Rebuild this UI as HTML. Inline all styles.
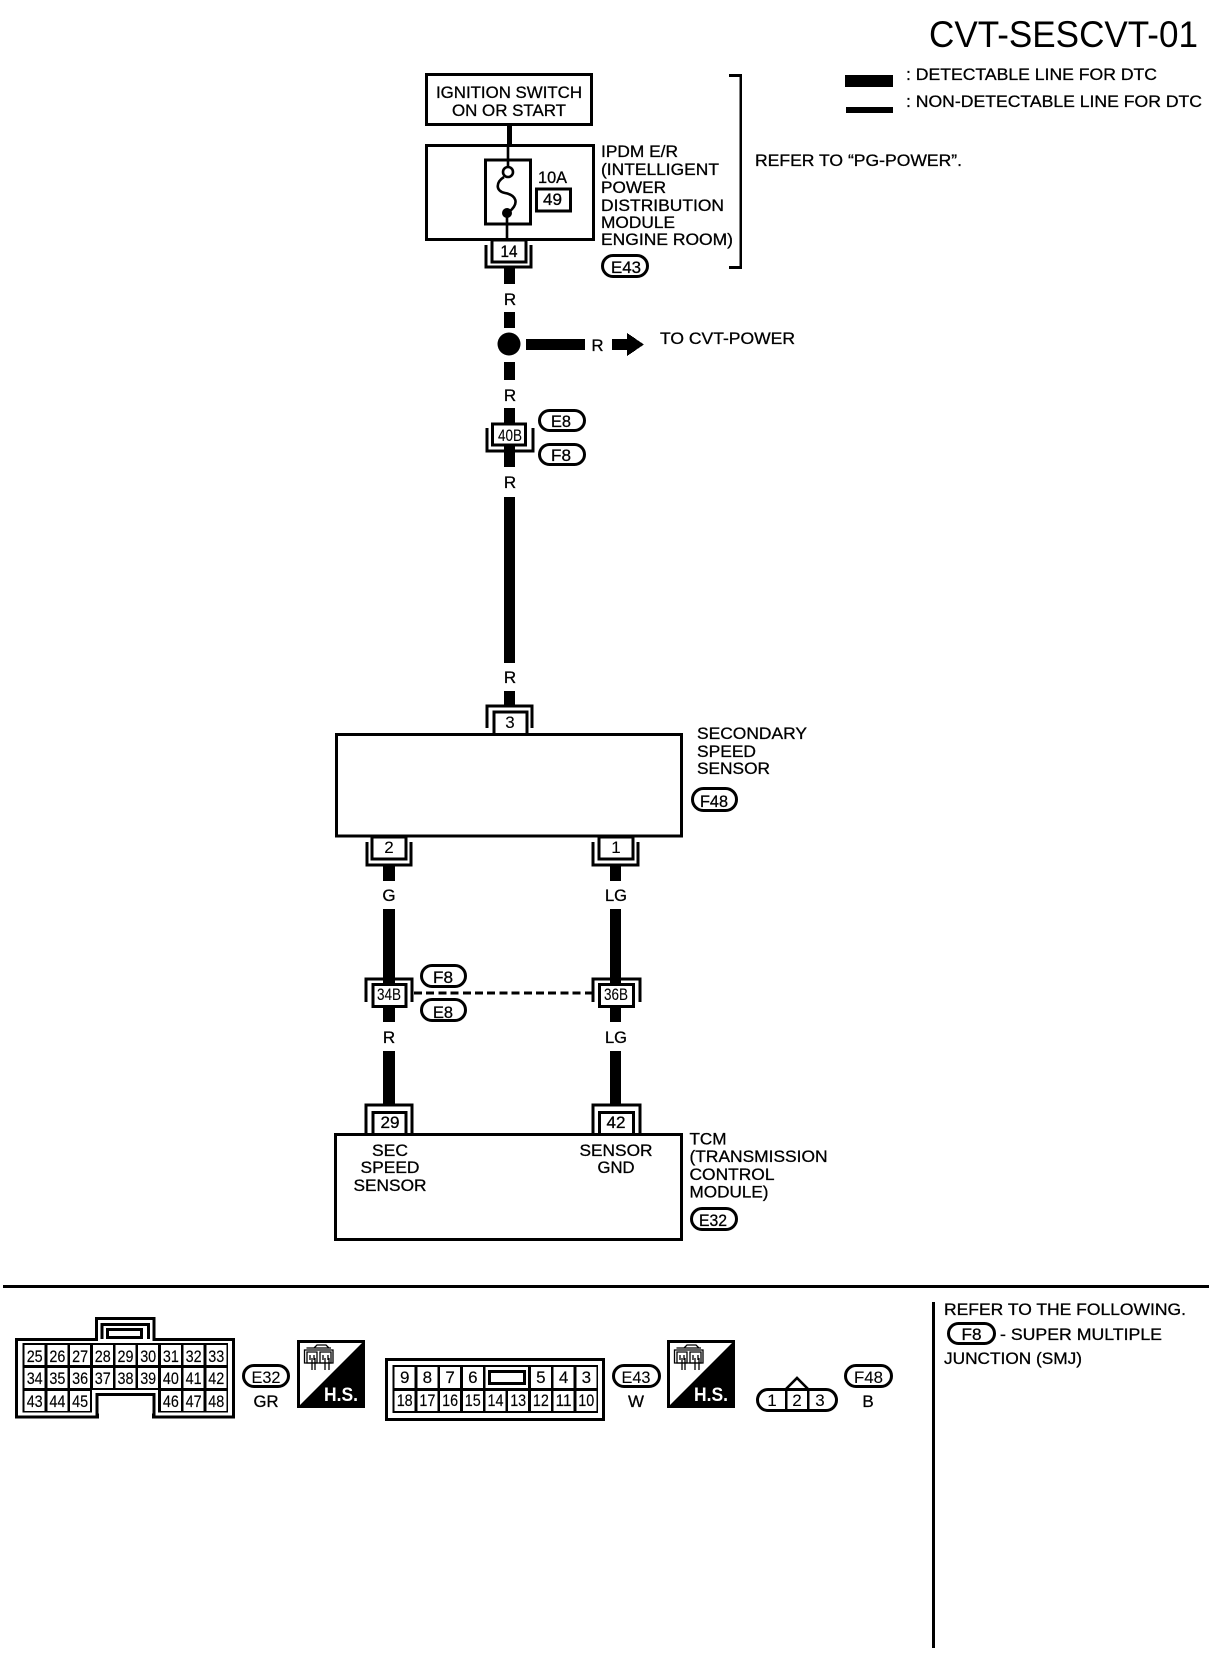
<!DOCTYPE html>
<html><head><meta charset="utf-8"><title>CVT-SESCVT-01</title>
<style>
html,body{margin:0;padding:0;background:#fff;width:1216px;height:1660px;overflow:hidden}
svg{display:block}
text{font-family:"Liberation Sans",sans-serif;font-size:17px;fill:#000;stroke:#000;stroke-width:.3}
.m{text-anchor:middle}
.n text{font-size:17px;text-anchor:middle;stroke-width:.15}
rect,.c{shape-rendering:crispEdges}
.b{fill:#fff;stroke:#000;stroke-width:3}
.t{fill:none;stroke:#000;stroke-width:2.6}
.p{fill:#fff;stroke:#000;stroke-width:3;shape-rendering:auto}
</style></head><body>
<svg width="1216" height="1660" viewBox="0 0 1216 1660" xmlns="http://www.w3.org/2000/svg">
<defs>
<g id="ic" fill="none" stroke="#000" stroke-width="1.3">
<path d="M304.5,1350 H333 V1363 H304.5 Z M306.5,1348 H331 M314,1348 L317,1345 H326 L329,1348"/>
<path d="M307,1352 H317 V1363 H307 Z M320,1352 H331 V1363 H320 Z"/>
<path d="M310,1355 V1360 M314,1355 V1360 M323,1355 V1360 M328,1355 V1360"/>
<path d="M312,1358 V1370 M315,1358 V1370 M325,1358 V1370 M329,1358 V1370"/>
</g>
</defs>

<!-- header -->
<text x="929" y="47" style="font-size:37px;stroke-width:0" textLength="269" lengthAdjust="spacingAndGlyphs">CVT-SESCVT-01</text>
<rect x="845" y="75" width="48" height="12"/>
<rect x="846" y="107" width="47" height="6"/>
<text x="906" y="80" textLength="251" lengthAdjust="spacingAndGlyphs">: DETECTABLE LINE FOR DTC</text>
<text x="906" y="107" textLength="296" lengthAdjust="spacingAndGlyphs">: NON-DETECTABLE LINE FOR DTC</text>
<text x="755" y="166" textLength="207" lengthAdjust="spacingAndGlyphs">REFER TO “PG-POWER”.</text>
<path class="t c" d="M729,75.5 H740.7 V267.5 H729"/>

<!-- ignition -->
<rect class="b" x="426.5" y="74.5" width="165" height="50"/>
<text x="436" y="98" textLength="146" lengthAdjust="spacingAndGlyphs">IGNITION SWITCH</text>
<text x="452" y="116" textLength="114" lengthAdjust="spacingAndGlyphs">ON OR START</text>
<rect x="507" y="126" width="5" height="19"/>

<!-- IPDM -->
<rect class="b" x="426.5" y="145.5" width="167" height="94"/>
<rect class="b" x="485.5" y="160" width="45" height="64"/>
<path class="t" d="M508,147 V167 M507,213 V240"/>
<circle cx="508" cy="172" r="5" fill="#fff" stroke="#000" stroke-width="2.6"/>
<circle cx="507" cy="213" r="5"/>
<path class="t" d="M504,177 C496,182 495,191 505,193 C516,195 520,203 509,212"/>
<text x="538" y="183" textLength="29" lengthAdjust="spacingAndGlyphs">10A</text>
<rect class="b" x="536.5" y="189" width="34" height="22"/>
<text x="543" y="205" textLength="19" lengthAdjust="spacingAndGlyphs">49</text>
<text x="601" y="157" textLength="77" lengthAdjust="spacingAndGlyphs">IPDM E/R</text>
<text x="601" y="175" textLength="118" lengthAdjust="spacingAndGlyphs">(INTELLIGENT</text>
<text x="601" y="193" textLength="65" lengthAdjust="spacingAndGlyphs">POWER</text>
<text x="601" y="211" textLength="123" lengthAdjust="spacingAndGlyphs">DISTRIBUTION</text>
<text x="601" y="228" textLength="74" lengthAdjust="spacingAndGlyphs">MODULE</text>
<text x="601" y="245" textLength="132" lengthAdjust="spacingAndGlyphs">ENGINE ROOM)</text>
<rect class="p" x="602.5" y="255.5" width="45" height="21" rx="10.5"/>
<text x="611" y="273" textLength="30" lengthAdjust="spacingAndGlyphs">E43</text>

<!-- 14 -->
<path class="t c" d="M486,245 V267 H531 V245"/>
<rect class="t" x="492" y="240" width="34" height="22" style="fill:#fff"/>
<text x="500.500" y="257" textLength="17" lengthAdjust="spacingAndGlyphs">14</text>

<!-- main vertical wire -->
<rect x="504" y="268" width="11" height="16"/>
<text class="m" x="510" y="305">R</text>
<rect x="504" y="312" width="11" height="16"/>
<circle cx="509" cy="344" r="11.5"/>
<rect x="526" y="339" width="59" height="11"/>
<text x="591.500" y="351" textLength="12" lengthAdjust="spacingAndGlyphs">R</text>
<path class="c" d="M612,339 H627 V333 L644,344.5 L627,356 V350 H612 Z"/>
<text x="660" y="344" textLength="135" lengthAdjust="spacingAndGlyphs">TO CVT-POWER</text>
<rect x="504" y="362" width="11" height="18"/>
<text class="m" x="510" y="401">R</text>
<rect x="504" y="408" width="11" height="59"/>
<path class="t c" d="M487,428 V451 H533 V428"/>
<rect class="t" x="492.500" y="424" width="33" height="21" style="fill:#fff"/>
<text class="m" x="510" y="441" style="stroke-width:.1" textLength="24" lengthAdjust="spacingAndGlyphs">40B</text>
<rect class="p" x="539.5" y="410.5" width="45" height="20" rx="10"/>
<text class="m" x="561" y="427" textLength="20" lengthAdjust="spacingAndGlyphs">E8</text>
<rect class="p" x="539.5" y="444.5" width="45" height="20" rx="10"/>
<text class="m" x="561" y="461" textLength="20" lengthAdjust="spacingAndGlyphs">F8</text>
<text class="m" x="510" y="488">R</text>
<rect x="504" y="497" width="11" height="166"/>
<text class="m" x="510" y="683">R</text>
<rect x="504" y="691" width="11" height="14"/>

<!-- secondary speed sensor -->
<path class="t c" d="M487,728 V706 H532 V728"/>
<rect class="t" x="494" y="712" width="33" height="24" style="fill:#fff"/>
<rect class="b" x="336.500" y="734.500" width="345" height="101.500"/>
<text class="m" x="510" y="728" style="stroke-width:.1">3</text>
<text x="697" y="739" textLength="110" lengthAdjust="spacingAndGlyphs">SECONDARY</text>
<text x="697" y="757" textLength="59" lengthAdjust="spacingAndGlyphs">SPEED</text>
<text x="697" y="774" textLength="73" lengthAdjust="spacingAndGlyphs">SENSOR</text>
<rect class="p" x="692.5" y="788.5" width="44" height="22" rx="11"/>
<text class="m" x="714" y="807" textLength="28" lengthAdjust="spacingAndGlyphs">F48</text>

<path class="t c" d="M367,842 V865 H411 V842"/>
<rect class="t" x="372" y="837" width="34" height="22" style="fill:#fff"/>
<text class="m" x="389" y="853" style="stroke-width:.1">2</text>
<path class="t c" d="M593,842 V865 H638 V842"/>
<rect class="t" x="599" y="837" width="34" height="22" style="fill:#fff"/>
<text class="m" x="616" y="853" style="stroke-width:.1">1</text>

<!-- lower wires -->
<rect x="383" y="866" width="12" height="15"/>
<rect x="610" y="866" width="11" height="15"/>
<text class="m" x="389" y="901">G</text>
<text class="m" x="616" y="901" textLength="22" lengthAdjust="spacingAndGlyphs">LG</text>
<rect x="383" y="909" width="12" height="113"/>
<rect x="610" y="909" width="11" height="113"/>
<text class="m" x="389" y="1043">R</text>
<text class="m" x="616" y="1043" textLength="22" lengthAdjust="spacingAndGlyphs">LG</text>
<rect x="383" y="1051" width="12" height="53"/>
<rect x="610" y="1051" width="11" height="53"/>

<path class="t c" d="M366,1002 V979 H412 V1002"/>
<rect class="b" x="373" y="984.500" width="33" height="22"/>
<text class="m" x="389" y="1000" style="stroke-width:.1" textLength="24" lengthAdjust="spacingAndGlyphs">34B</text>
<path class="t c" d="M593,1002 V979 H640 V1002"/>
<rect class="b" x="599.5" y="984.500" width="34" height="22"/>
<text class="m" x="616" y="1000" style="stroke-width:.1" textLength="24" lengthAdjust="spacingAndGlyphs">36B</text>
<path d="M414,993 H593" fill="none" stroke="#000" stroke-width="2.6" stroke-dasharray="8 4.200" class="c"/>
<rect class="p" x="421.5" y="965.5" width="44" height="21" rx="10.5"/>
<text class="m" x="443" y="983" textLength="20" lengthAdjust="spacingAndGlyphs">F8</text>
<rect class="p" x="421.5" y="999.5" width="44" height="21" rx="10.5"/>
<text class="m" x="443" y="1018" textLength="20" lengthAdjust="spacingAndGlyphs">E8</text>

<!-- TCM -->
<path class="t c" d="M366,1133 V1105 H412 V1133"/>
<path class="t c" d="M593,1133 V1105 H640 V1133"/>
<rect class="b" x="335.500" y="1134.500" width="346" height="105"/>
<rect class="b" x="373" y="1112.5" width="33" height="22"/>
<rect class="b" x="599.5" y="1112.5" width="34" height="22"/>
<text class="m" x="390" y="1128" textLength="19" lengthAdjust="spacingAndGlyphs">29</text>
<text class="m" x="616" y="1128" textLength="19" lengthAdjust="spacingAndGlyphs">42</text>
<text class="m" x="390" y="1156" textLength="36" lengthAdjust="spacingAndGlyphs">SEC</text>
<text class="m" x="390" y="1173" textLength="59" lengthAdjust="spacingAndGlyphs">SPEED</text>
<text class="m" x="390" y="1191" textLength="73" lengthAdjust="spacingAndGlyphs">SENSOR</text>
<text class="m" x="616" y="1156" textLength="73" lengthAdjust="spacingAndGlyphs">SENSOR</text>
<text class="m" x="616" y="1173" textLength="37" lengthAdjust="spacingAndGlyphs">GND</text>
<text x="689.500" y="1144.500" textLength="37" lengthAdjust="spacingAndGlyphs">TCM</text>
<text x="689.500" y="1162" textLength="138" lengthAdjust="spacingAndGlyphs">(TRANSMISSION</text>
<text x="689.500" y="1180" textLength="85" lengthAdjust="spacingAndGlyphs">CONTROL</text>
<text x="689.500" y="1197.500" textLength="79" lengthAdjust="spacingAndGlyphs">MODULE)</text>
<rect class="p" x="691.5" y="1208.5" width="45" height="21" rx="10.5"/>
<text class="m" x="713" y="1226" textLength="28" lengthAdjust="spacingAndGlyphs">E32</text>

<!-- separators -->
<rect x="3" y="1285" width="1206" height="3"/>
<rect x="932" y="1302" width="3" height="346"/>
<text x="944" y="1315" textLength="242" lengthAdjust="spacingAndGlyphs">REFER TO THE FOLLOWING.</text>
<rect class="p" x="948.500" y="1323.5" width="46" height="20" rx="10"/>
<text class="m" x="971.500" y="1340" textLength="20" lengthAdjust="spacingAndGlyphs">F8</text>
<text x="1000" y="1340" textLength="162" lengthAdjust="spacingAndGlyphs">- SUPER MULTIPLE</text>
<text x="944" y="1364" textLength="138" lengthAdjust="spacingAndGlyphs">JUNCTION (SMJ)</text>

<!-- E32 connector -->
<path class="b c" d="M16.5,1339.5 H96.500 V1318.5 H154 V1339.5 H233.500 V1417 H153.500 V1394.500 H97.500 V1417 H16.5 Z"/>
<path class="t c" d="M102,1339 V1324.5 H148.500 V1339"/>
<rect class="b" x="107.500" y="1329.500" width="34" height="8"/>
<path class="c" d="M22.700,1343 H228 V1412.500 H158 V1390 H92 V1412.500 H22.700 Z"/>
<g fill="#fff">
<rect x="24.700" y="1345" width="20" height="20"/><rect x="47.400" y="1345" width="20" height="20"/><rect x="70.100" y="1345" width="20" height="20"/><rect x="92.800" y="1345" width="20" height="20"/><rect x="115.500" y="1345" width="20" height="20"/><rect x="138.200" y="1345" width="20" height="20"/><rect x="160.900" y="1345" width="20" height="20"/><rect x="183.600" y="1345" width="20" height="20"/><rect x="206.300" y="1345" width="20" height="20"/>
<rect x="24.700" y="1368" width="20" height="20"/><rect x="47.400" y="1368" width="20" height="20"/><rect x="70.100" y="1368" width="20" height="20"/><rect x="92.800" y="1368" width="20" height="20"/><rect x="115.500" y="1368" width="20" height="20"/><rect x="138.200" y="1368" width="20" height="20"/><rect x="160.900" y="1368" width="20" height="20"/><rect x="183.600" y="1368" width="20" height="20"/><rect x="206.300" y="1368" width="20" height="20"/>
<rect x="24.700" y="1391" width="20" height="20"/><rect x="47.400" y="1391" width="20" height="20"/><rect x="70.100" y="1391" width="20" height="20"/><rect x="160.900" y="1391" width="20" height="20"/><rect x="183.600" y="1391" width="20" height="20"/><rect x="206.300" y="1391" width="20" height="20"/>
<rect x="92.500" y="1390.500" width="65" height="23"/>
</g>
<path class="t c" d="M97,1417 V1394.500 H154 V1417"/>
<g class="n">
<text x="34.700" y="1362" textLength="16" lengthAdjust="spacingAndGlyphs">25</text><text x="57.400" y="1362" textLength="16" lengthAdjust="spacingAndGlyphs">26</text><text x="80.100" y="1362" textLength="16" lengthAdjust="spacingAndGlyphs">27</text><text x="102.800" y="1362" textLength="16" lengthAdjust="spacingAndGlyphs">28</text><text x="125.500" y="1362" textLength="16" lengthAdjust="spacingAndGlyphs">29</text><text x="148.200" y="1362" textLength="16" lengthAdjust="spacingAndGlyphs">30</text><text x="170.900" y="1362" textLength="16" lengthAdjust="spacingAndGlyphs">31</text><text x="193.600" y="1362" textLength="16" lengthAdjust="spacingAndGlyphs">32</text><text x="216.300" y="1362" textLength="16" lengthAdjust="spacingAndGlyphs">33</text>
<text x="34.700" y="1384" textLength="16" lengthAdjust="spacingAndGlyphs">34</text><text x="57.400" y="1384" textLength="16" lengthAdjust="spacingAndGlyphs">35</text><text x="80.100" y="1384" textLength="16" lengthAdjust="spacingAndGlyphs">36</text><text x="102.800" y="1384" textLength="16" lengthAdjust="spacingAndGlyphs">37</text><text x="125.500" y="1384" textLength="16" lengthAdjust="spacingAndGlyphs">38</text><text x="148.200" y="1384" textLength="16" lengthAdjust="spacingAndGlyphs">39</text><text x="170.900" y="1384" textLength="16" lengthAdjust="spacingAndGlyphs">40</text><text x="193.600" y="1384" textLength="16" lengthAdjust="spacingAndGlyphs">41</text><text x="216.300" y="1384" textLength="16" lengthAdjust="spacingAndGlyphs">42</text>
<text x="34.700" y="1407" textLength="16" lengthAdjust="spacingAndGlyphs">43</text><text x="57.400" y="1407" textLength="16" lengthAdjust="spacingAndGlyphs">44</text><text x="80.100" y="1407" textLength="16" lengthAdjust="spacingAndGlyphs">45</text><text x="170.900" y="1407" textLength="16" lengthAdjust="spacingAndGlyphs">46</text><text x="193.600" y="1407" textLength="16" lengthAdjust="spacingAndGlyphs">47</text><text x="216.300" y="1407" textLength="16" lengthAdjust="spacingAndGlyphs">48</text>
</g>
<rect class="p" x="243.500" y="1365.500" width="45" height="21" rx="10.500"/>
<text class="m" x="266" y="1383" style="stroke-width:.1" textLength="29" lengthAdjust="spacingAndGlyphs">E32</text>
<text class="m" x="266" y="1407" textLength="25" lengthAdjust="spacingAndGlyphs">GR</text>

<!-- HS 1 -->
<rect x="297" y="1340" width="68" height="68"/>
<polygon points="300,1343 362,1343 300,1405" fill="#fff"/>
<use href="#ic"/>
<text x="324" y="1401" style="font-size:19px;font-weight:bold;fill:#fff;stroke:none" textLength="34" lengthAdjust="spacingAndGlyphs">H.S.</text>

<!-- E43 connector -->
<rect class="b" x="386.500" y="1359.500" width="217" height="60"/>
<rect x="392.700" y="1365" width="205.300" height="48"/>
<g fill="#fff">
<rect x="394.700" y="1367" width="20" height="21"/><rect x="417.400" y="1367" width="20" height="21"/><rect x="440.100" y="1367" width="20" height="21"/><rect x="462.800" y="1367" width="20" height="21"/><rect x="485.500" y="1367" width="42.700" height="21"/><rect x="530.900" y="1367" width="20" height="21"/><rect x="553.600" y="1367" width="20" height="21"/><rect x="576.300" y="1367" width="20" height="21"/>
<rect x="394.700" y="1391" width="20" height="20"/><rect x="417.400" y="1391" width="20" height="20"/><rect x="440.100" y="1391" width="20" height="20"/><rect x="462.800" y="1391" width="20" height="20"/><rect x="485.500" y="1391" width="20" height="20"/><rect x="508.200" y="1391" width="20" height="20"/><rect x="530.900" y="1391" width="20" height="20"/><rect x="553.600" y="1391" width="20" height="20"/><rect x="576.300" y="1391" width="20" height="20"/>
</g>
<rect class="b" x="489.500" y="1371.500" width="35" height="12"/>
<g class="n">
<text x="404.700" y="1383">9</text><text x="427.400" y="1383">8</text><text x="450.100" y="1383">7</text><text x="472.800" y="1383">6</text><text x="540.900" y="1383">5</text><text x="563.600" y="1383">4</text><text x="586.300" y="1383">3</text>
<text x="404.700" y="1406" textLength="16" lengthAdjust="spacingAndGlyphs">18</text><text x="427.400" y="1406" textLength="16" lengthAdjust="spacingAndGlyphs">17</text><text x="450.100" y="1406" textLength="16" lengthAdjust="spacingAndGlyphs">16</text><text x="472.800" y="1406" textLength="16" lengthAdjust="spacingAndGlyphs">15</text><text x="495.500" y="1406" textLength="16" lengthAdjust="spacingAndGlyphs">14</text><text x="518.200" y="1406" textLength="16" lengthAdjust="spacingAndGlyphs">13</text><text x="540.900" y="1406" textLength="16" lengthAdjust="spacingAndGlyphs">12</text><text x="563.600" y="1406" textLength="16" lengthAdjust="spacingAndGlyphs">11</text><text x="586.300" y="1406" textLength="16" lengthAdjust="spacingAndGlyphs">10</text>
</g>
<rect class="p" x="613.500" y="1365.500" width="46" height="21" rx="10.500"/>
<text class="m" x="636" y="1383" style="stroke-width:.1" textLength="29" lengthAdjust="spacingAndGlyphs">E43</text>
<text class="m" x="636" y="1407" textLength="16" lengthAdjust="spacingAndGlyphs">W</text>

<!-- HS 2 -->
<rect x="667" y="1340" width="68" height="68"/>
<polygon points="670,1343 732,1343 670,1405" fill="#fff"/>
<use href="#ic" x="370"/>
<text x="694" y="1401" style="font-size:19px;font-weight:bold;fill:#fff;stroke:none" textLength="34" lengthAdjust="spacingAndGlyphs">H.S.</text>

<!-- F48 connector -->
<path d="M786,1389 L797,1378 L808,1389" fill="none" stroke="#000" stroke-width="2.600"/>
<rect class="p" x="757.500" y="1389.500" width="79" height="21" rx="10.500"/>
<rect x="785" y="1389" width="2.600" height="22"/>
<rect x="807" y="1389" width="2.600" height="22"/>
<text class="m" x="772" y="1406" style="stroke-width:.1">1</text>
<text class="m" x="797" y="1406" style="stroke-width:.1">2</text>
<text class="m" x="820" y="1406" style="stroke-width:.1">3</text>
<rect class="p" x="845.500" y="1365.500" width="46" height="21" rx="10.500"/>
<text class="m" x="868.500" y="1383" style="stroke-width:.1" textLength="29" lengthAdjust="spacingAndGlyphs">F48</text>
<text class="m" x="868" y="1407">B</text>
</svg>
</body></html>
